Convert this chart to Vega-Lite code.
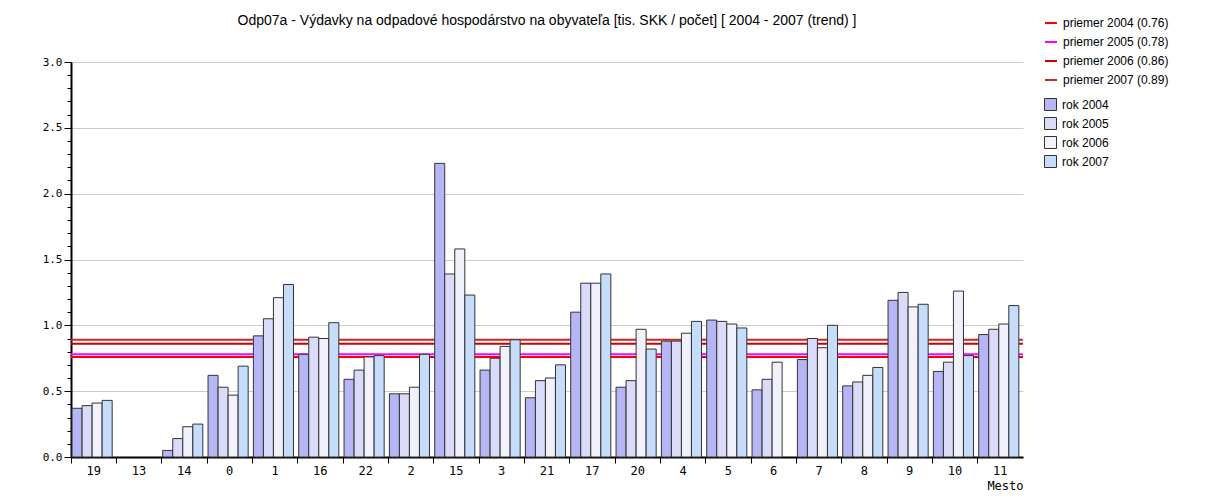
{
  "$schema": "https://vega.github.io/schema/vega-lite/v6.json",
  "width": 952,
  "height": 395,
  "autosize": {"type": "none"},
  "padding": {"left": 71, "top": 62, "right": 192, "bottom": 40},
  "background": "white",
  "title": {
    "text": "Odp07a - Výdavky na odpadové hospodárstvo na obyvateľa [tis. SKK / počet]  [ 2004 - 2007 (trend) ]",
    "font": "Liberation Sans",
    "fontSize": 14,
    "fontWeight": "normal",
    "color": "#000000",
    "anchor": "middle",
    "frame": "group",
    "offset": -12
  },
  "config": {"view": {"stroke": null}},
  "datasets": {
    "avg": [
      {"label": "priemer 2004 (0.76)", "v": 0.76},
      {"label": "priemer 2005 (0.78)", "v": 0.78},
      {"label": "priemer 2006 (0.86)", "v": 0.86},
      {"label": "priemer 2007 (0.89)", "v": 0.89}
    ],
    "bars": [
      {"m": "19", "r": "rok 2004", "v": 0.37}, {"m": "19", "r": "rok 2005", "v": 0.39}, {"m": "19", "r": "rok 2006", "v": 0.41}, {"m": "19", "r": "rok 2007", "v": 0.43},
      {"m": "14", "r": "rok 2004", "v": 0.05}, {"m": "14", "r": "rok 2005", "v": 0.14}, {"m": "14", "r": "rok 2006", "v": 0.23}, {"m": "14", "r": "rok 2007", "v": 0.25},
      {"m": "0", "r": "rok 2004", "v": 0.62}, {"m": "0", "r": "rok 2005", "v": 0.53}, {"m": "0", "r": "rok 2006", "v": 0.47}, {"m": "0", "r": "rok 2007", "v": 0.69},
      {"m": "1", "r": "rok 2004", "v": 0.92}, {"m": "1", "r": "rok 2005", "v": 1.05}, {"m": "1", "r": "rok 2006", "v": 1.21}, {"m": "1", "r": "rok 2007", "v": 1.31},
      {"m": "16", "r": "rok 2004", "v": 0.78}, {"m": "16", "r": "rok 2005", "v": 0.91}, {"m": "16", "r": "rok 2006", "v": 0.90}, {"m": "16", "r": "rok 2007", "v": 1.02},
      {"m": "22", "r": "rok 2004", "v": 0.59}, {"m": "22", "r": "rok 2005", "v": 0.66}, {"m": "22", "r": "rok 2006", "v": 0.76}, {"m": "22", "r": "rok 2007", "v": 0.77},
      {"m": "2", "r": "rok 2004", "v": 0.48}, {"m": "2", "r": "rok 2005", "v": 0.48}, {"m": "2", "r": "rok 2006", "v": 0.53}, {"m": "2", "r": "rok 2007", "v": 0.78},
      {"m": "15", "r": "rok 2004", "v": 2.23}, {"m": "15", "r": "rok 2005", "v": 1.39}, {"m": "15", "r": "rok 2006", "v": 1.58}, {"m": "15", "r": "rok 2007", "v": 1.23},
      {"m": "3", "r": "rok 2004", "v": 0.66}, {"m": "3", "r": "rok 2005", "v": 0.75}, {"m": "3", "r": "rok 2006", "v": 0.84}, {"m": "3", "r": "rok 2007", "v": 0.89},
      {"m": "21", "r": "rok 2004", "v": 0.45}, {"m": "21", "r": "rok 2005", "v": 0.58}, {"m": "21", "r": "rok 2006", "v": 0.60}, {"m": "21", "r": "rok 2007", "v": 0.70},
      {"m": "17", "r": "rok 2004", "v": 1.10}, {"m": "17", "r": "rok 2005", "v": 1.32}, {"m": "17", "r": "rok 2006", "v": 1.32}, {"m": "17", "r": "rok 2007", "v": 1.39},
      {"m": "20", "r": "rok 2004", "v": 0.53}, {"m": "20", "r": "rok 2005", "v": 0.58}, {"m": "20", "r": "rok 2006", "v": 0.97}, {"m": "20", "r": "rok 2007", "v": 0.82},
      {"m": "4", "r": "rok 2004", "v": 0.88}, {"m": "4", "r": "rok 2005", "v": 0.88}, {"m": "4", "r": "rok 2006", "v": 0.94}, {"m": "4", "r": "rok 2007", "v": 1.03},
      {"m": "5", "r": "rok 2004", "v": 1.04}, {"m": "5", "r": "rok 2005", "v": 1.03}, {"m": "5", "r": "rok 2006", "v": 1.01}, {"m": "5", "r": "rok 2007", "v": 0.98},
      {"m": "6", "r": "rok 2004", "v": 0.51}, {"m": "6", "r": "rok 2005", "v": 0.59}, {"m": "6", "r": "rok 2006", "v": 0.72},
      {"m": "7", "r": "rok 2004", "v": 0.74}, {"m": "7", "r": "rok 2005", "v": 0.90}, {"m": "7", "r": "rok 2006", "v": 0.83}, {"m": "7", "r": "rok 2007", "v": 1.00},
      {"m": "8", "r": "rok 2004", "v": 0.54}, {"m": "8", "r": "rok 2005", "v": 0.57}, {"m": "8", "r": "rok 2006", "v": 0.62}, {"m": "8", "r": "rok 2007", "v": 0.68},
      {"m": "9", "r": "rok 2004", "v": 1.19}, {"m": "9", "r": "rok 2005", "v": 1.25}, {"m": "9", "r": "rok 2006", "v": 1.14}, {"m": "9", "r": "rok 2007", "v": 1.16},
      {"m": "10", "r": "rok 2004", "v": 0.65}, {"m": "10", "r": "rok 2005", "v": 0.72}, {"m": "10", "r": "rok 2006", "v": 1.26}, {"m": "10", "r": "rok 2007", "v": 0.77},
      {"m": "11", "r": "rok 2004", "v": 0.93}, {"m": "11", "r": "rok 2005", "v": 0.97}, {"m": "11", "r": "rok 2006", "v": 1.01}, {"m": "11", "r": "rok 2007", "v": 1.15}
    ]
  },
  "encoding": {
    "y": {
      "field": "v",
      "type": "quantitative",
      "scale": {"domain": [0, 3], "nice": false, "zero": true},
      "axis": {
        "values": [0, 0.1, 0.2, 0.3, 0.4, 0.5, 0.6, 0.7, 0.8, 0.9, 1.0, 1.1, 1.2, 1.3, 1.4, 1.5, 1.6, 1.7, 1.8, 1.9, 2.0, 2.1, 2.2, 2.3, 2.4, 2.5, 2.6, 2.7, 2.8, 2.9, 3.0],
        "title": null,
        "labelExpr": "round(datum.value*10)%5==0 ? format(datum.value,'.1f') : ''",
        "tickSize": {"condition": {"test": "round(datum.value*10)%5==0", "value": 7}, "value": 4},
        "grid": true,
        "gridColor": "#cccccc",
        "gridWidth": 1,
        "gridOpacity": {"condition": {"test": "round(datum.value*10)%5==0", "value": 1}, "value": 0},
        "domainColor": "#000000",
        "domainWidth": 2,
        "tickColor": "#000000",
        "tickWidth": 1,
        "labelFont": "DejaVu Sans Mono",
        "labelFontSize": 11,
        "labelColor": "#000000",
        "labelPadding": 2,
        "labelOverlap": false,
        "labelFlush": false
      }
    }
  },
  "layer": [
    {
      "data": {"name": "avg"},
      "mark": {"type": "rule", "strokeWidth": 2},
      "encoding": {
        "stroke": {
          "field": "label",
          "type": "nominal",
          "scale": {
            "domain": ["priemer 2004 (0.76)", "priemer 2005 (0.78)", "priemer 2006 (0.86)", "priemer 2007 (0.89)"],
            "range": ["#ff0000", "#ff00ff", "#cc0000", "#c62828"]
          },
          "legend": {
            "title": null,
            "orient": "none",
            "legendX": 973,
            "legendY": -46,
            "symbolType": "stroke",
            "symbolSize": 144,
            "symbolStrokeWidth": 2,
            "labelFont": "Liberation Sans",
            "labelFontSize": 12,
            "labelColor": "#000000",
            "labelLimit": 300,
            "rowPadding": 6,
            "labelOffset": 5
          }
        }
      }
    },
    {
      "data": {"name": "bars"},
      "mark": {"type": "bar", "stroke": "#333333", "strokeWidth": 1},
      "encoding": {
        "x": {
          "field": "m",
          "type": "nominal",
          "scale": {
            "domain": ["19", "13", "14", "0", "1", "16", "22", "2", "15", "3", "21", "17", "20", "4", "5", "6", "7", "8", "9", "10", "11"],
            "paddingInner": 0,
            "paddingOuter": 0
          },
          "axis": {
            "title": "Mesto",
            "titleAnchor": "end",
            "titleFont": "DejaVu Sans Mono",
            "titleFontSize": 12,
            "titleFontWeight": "normal",
            "titleColor": "#000000",
            "titlePadding": 4,
            "labelAngle": 0,
            "bandPosition": 0,
            "labelFont": "DejaVu Sans Mono",
            "labelFontSize": 12,
            "labelColor": "#000000",
            "labelPadding": 2,
            "tickSize": 6,
            "tickColor": "#000000",
            "domainColor": "#000000",
            "domainWidth": 2,
            "grid": false
          }
        },
        "xOffset": {
          "field": "r",
          "type": "nominal",
          "scale": {"paddingInner": 0, "paddingOuter": 0.26, "align": 0.2}
        },
        "fill": {
          "field": "r",
          "type": "nominal",
          "scale": {
            "domain": ["rok 2004", "rok 2005", "rok 2006", "rok 2007"],
            "range": ["#b6b6f6", "#dadaf9", "#f1f1fc", "#c6dcfb"]
          },
          "legend": {
            "title": null,
            "orient": "none",
            "legendX": 973,
            "legendY": 36,
            "symbolType": "square",
            "symbolSize": 144,
            "symbolStrokeColor": "#333333",
            "symbolStrokeWidth": 1,
            "labelFont": "Liberation Sans",
            "labelFontSize": 12,
            "labelColor": "#000000",
            "labelLimit": 300,
            "rowPadding": 2,
            "labelOffset": 5
          }
        }
      }
    }
  ]
}
